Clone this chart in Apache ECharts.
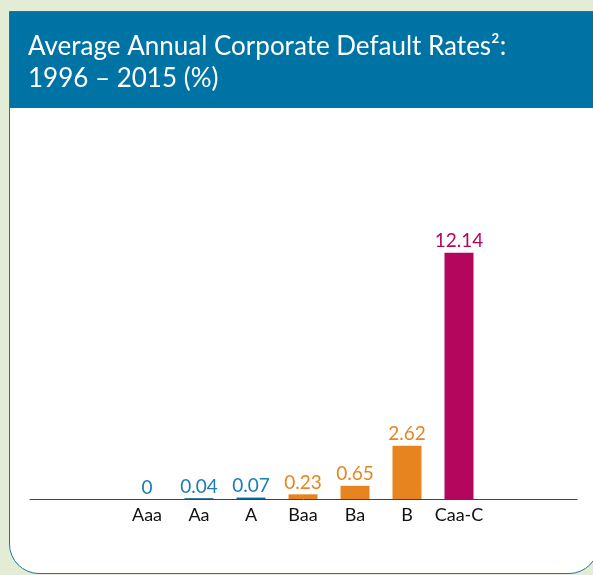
<!DOCTYPE html>
<html><head><meta charset="utf-8">
<script src="https://cdn.jsdelivr.net/npm/echarts@6/dist/echarts.min.js"></script>
<style>
html,body{margin:0;padding:0;width:593px;height:575px;background:#e3edd5;overflow:hidden;}
#panel{position:absolute;left:9px;top:11px;width:590px;height:563px;background:#fff;border:1.5px solid #1a76a6;border-radius:0 0 30px 30px;box-sizing:border-box;overflow:hidden;}
#band{position:absolute;left:0;top:0;width:100%;height:96px;background:#0073a5;}
#chart{position:absolute;left:0;top:0;width:593px;height:575px;}
</style></head>
<body>
<div id="panel"><div id="band"></div></div>
<div id="chart"></div>
<script>
const categories = ['Aaa','Aa','A','Baa','Ba','B','Caa-C'];
const values = [0, 0.04, 0.07, 0.23, 0.65, 2.62, 12.14];
const barColors = ['#1b7db0','#0b5f8a','#0b6a9b','#e8841f','#e8841f','#e8841f','#b5065e'];
const labelColors = ['#1b7db0','#1b7db0','#1b7db0','#e8841f','#e8841f','#e8841f','#b5065e'];

const chart = echarts.init(document.getElementById('chart'), null, {renderer:'canvas'});
const font = 'Lato, "Open Sans", sans-serif';
chart.setOption({
  backgroundColor: 'transparent',
  animation: false,
  title: {
    text: 'Average Annual Corporate Default Rates²:\n1996 – 2015 (%)',
    left: 23, top: 26,
    textStyle: {color:'#fff', fontSize: 26, fontWeight: 'normal', fontFamily: font, lineHeight: 32}
  },
  grid: [
    {left: 121, right: 108, top: 215, bottom: 76},
    {left: 30, right: 16, top: 215, bottom: 76}
  ],
  xAxis: [
    {type:'category', gridIndex:0, data: categories,
     axisLine:{show:false}, axisTick:{show:false},
     axisLabel:{color:'#111', fontSize:18, fontFamily: font, margin: 7, interval: 0}},
    {type:'category', gridIndex:1, data:[''],
     axisLine:{show:true, lineStyle:{color:'#444', width:1}}, axisTick:{show:false}, axisLabel:{show:false}}
  ],
  yAxis: [
    {type:'value', gridIndex:0, min:0, max:14, show:false, splitLine:{show:false}},
    {type:'value', gridIndex:1, min:0, max:14, show:false, splitLine:{show:false}}
  ],
  series: [{
    type:'bar', xAxisIndex:0, yAxisIndex:0, barWidth: 29,
    data: values.map((v,i)=>({value:v, itemStyle:{color:barColors[i]},
      label:{color:labelColors[i]}})),
    label:{show:true, position:'top', distance:2, fontSize:19, fontFamily: font,
      formatter: p => String(values[p.dataIndex])}
  }]
});
</script>
</body></html>
